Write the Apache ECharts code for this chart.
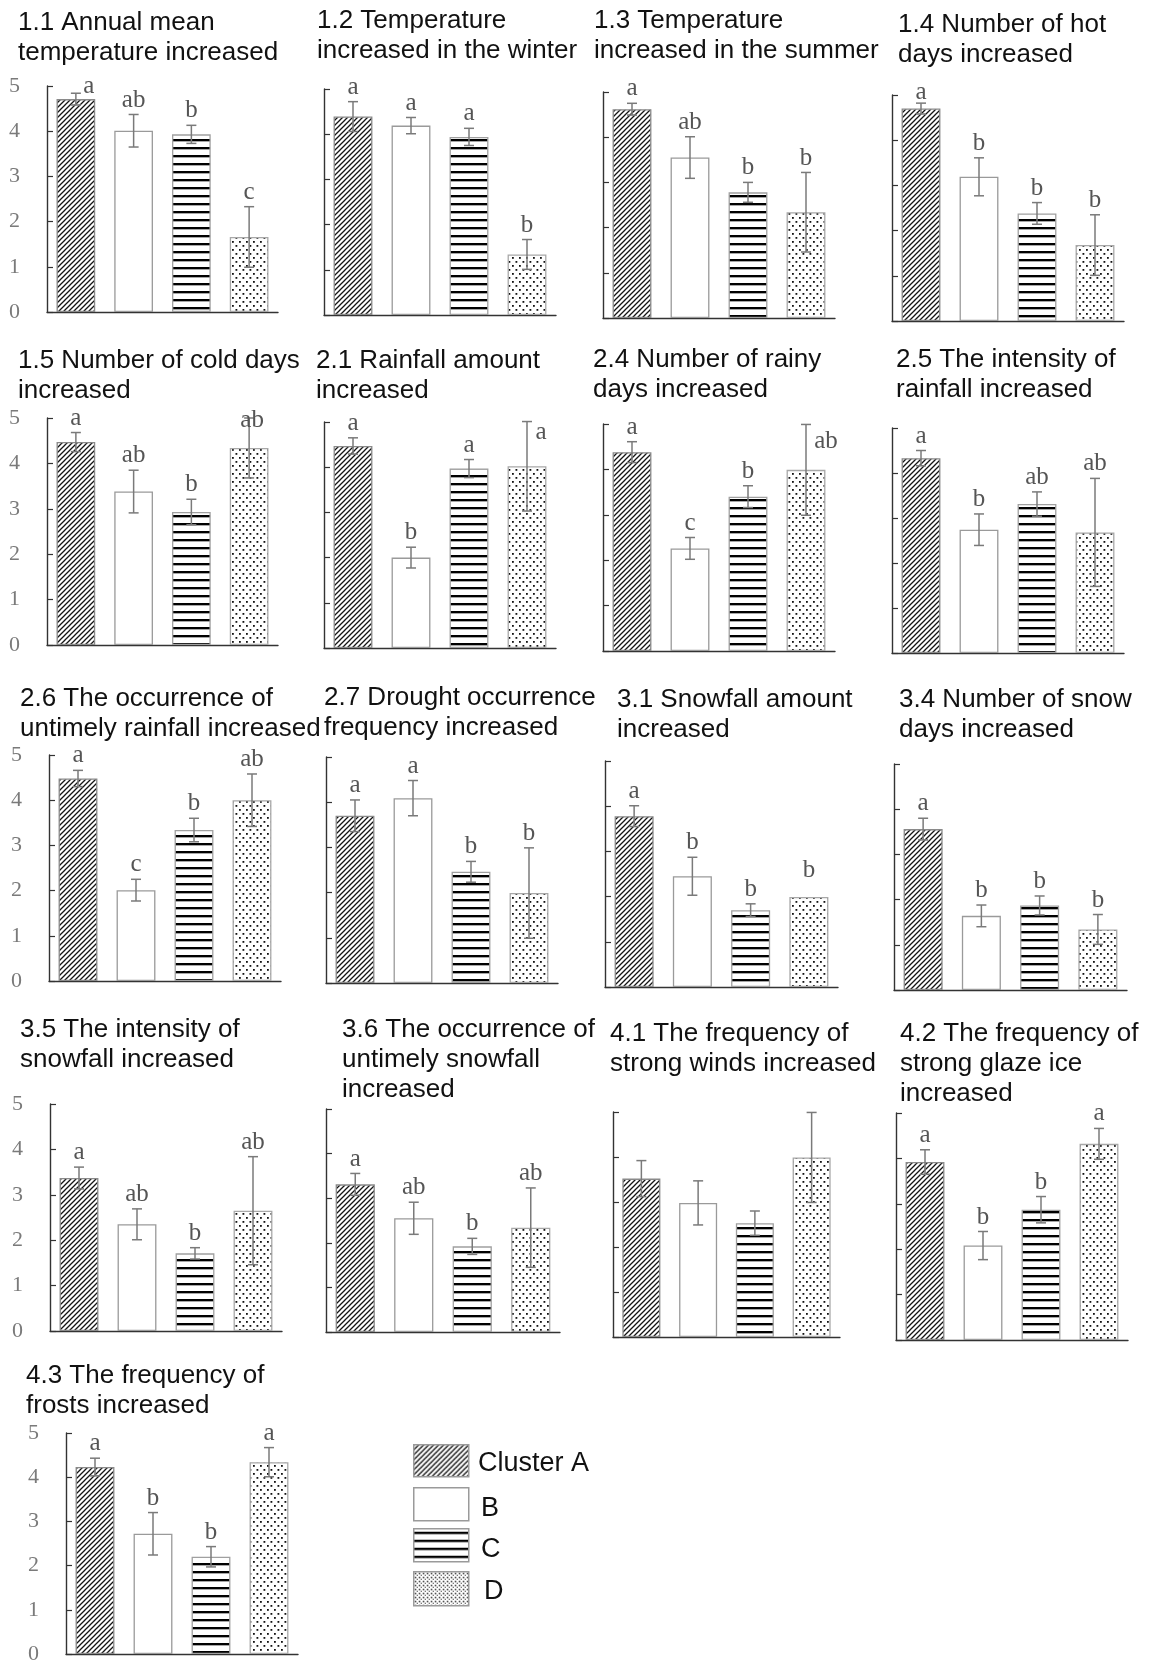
<!DOCTYPE html>
<html>
<head>
<meta charset="utf-8">
<script src="https://cdn.jsdelivr.net/npm/echarts@6/dist/echarts.min.js"></script>
<style>
  html, body { margin: 0; padding: 0; background: #ffffff; }
  #chart { width: 1153px; height: 1665px; }
</style>
</head>
<body>
<div id="chart"></div>
<script>
// ---- data -------------------------------------------------------------
const clusters = ['Cluster A', 'B', 'C', 'D'];
const yTicks = [0, 1, 2, 3, 4, 5];

const panelTitles = [
  '1.1 Annual mean\ntemperature increased',
  '1.2 Temperature\nincreased in the winter',
  '1.3 Temperature\nincreased in the summer',
  '1.4 Number of hot\ndays increased',
  '1.5 Number of cold days\nincreased',
  '2.1 Rainfall amount\nincreased',
  '2.4 Number of rainy\ndays increased',
  '2.5 The intensity of\nrainfall increased',
  '2.6 The occurrence of\nuntimely rainfall increased',
  '2.7 Drought occurrence\nfrequency increased',
  '3.1 Snowfall amount\nincreased',
  '3.4 Number of snow\ndays increased',
  '3.5 The intensity of\nsnowfall increased',
  '3.6 The occurrence of\nuntimely snowfall\nincreased',
  '4.1 The frequency of\nstrong winds increased',
  '4.2 The frequency of\nstrong glaze ice\nincreased',
  '4.3 The frequency of\nfrosts increased'
];

// mean score of each cluster (A, B, C, D) per item
const means = [
  [4.71, 4.01, 3.93, 1.66],
  [4.39, 4.19, 3.94, 1.34],
  [4.62, 3.55, 2.78, 2.34],
  [4.70, 3.19, 2.38, 1.68],
  [4.47, 3.38, 2.93, 4.34],
  [4.47, 2.00, 3.97, 4.02],
  [4.38, 2.26, 3.40, 3.99],
  [4.33, 2.74, 3.31, 2.68],
  [4.48, 2.01, 3.34, 4.00],
  [3.70, 4.09, 2.46, 1.99],
  [3.78, 2.45, 1.70, 1.99],
  [3.56, 1.64, 1.87, 1.34],
  [3.37, 2.35, 1.71, 2.65],
  [3.31, 2.55, 1.92, 2.34],
  [3.52, 2.98, 2.53, 3.99],
  [3.92, 2.08, 2.87, 4.32],
  [4.23, 2.72, 2.20, 4.34]
];

// standard error of each mean
const errors = [
  [0.13, 0.36, 0.20, 0.67],
  [0.33, 0.18, 0.19, 0.33],
  [0.13, 0.46, 0.22, 0.88],
  [0.12, 0.42, 0.24, 0.67],
  [0.21, 0.47, 0.28, 0.66],
  [0.18, 0.23, 0.20, 0.99],
  [0.23, 0.24, 0.24, 1.00],
  [0.17, 0.35, 0.27, 1.20],
  [0.18, 0.24, 0.26, 0.58],
  [0.35, 0.39, 0.23, 1.00],
  [0.23, 0.42, 0.14, 0.00],
  [0.24, 0.24, 0.21, 0.33],
  [0.24, 0.34, 0.125, 1.19],
  [0.245, 0.36, 0.18, 0.89],
  [0.40, 0.49, 0.27, 1.00],
  [0.27, 0.31, 0.29, 0.34],
  [0.20, 0.48, 0.23, 0.33]
];

// significance groups
const letters = [
  ['a', 'ab', 'b', 'c'],
  ['a', 'a', 'a', 'b'],
  ['a', 'ab', 'b', 'b'],
  ['a', 'b', 'b', 'b'],
  ['a', 'ab', 'b', 'ab'],
  ['a', 'b', 'a', 'a'],
  ['a', 'c', 'b', 'ab'],
  ['a', 'b', 'ab', 'ab'],
  ['a', 'c', 'b', 'ab'],
  ['a', 'a', 'b', 'b'],
  ['a', 'b', 'b', 'b'],
  ['a', 'b', 'b', 'b'],
  ['a', 'ab', 'b', 'ab'],
  ['a', 'ab', 'b', 'ab'],
  ['', '', '', ''],
  ['a', 'b', 'b', 'a'],
  ['a', 'b', 'b', 'a']
];

// ---- layout & style ---------------------------------------------------
// plot boxes: [left, top(=5), right, bottom(=0)]
const boxes = [
  [47, 86, 278, 312], [324, 89, 556, 315], [603, 92, 835, 318], [892, 95, 1124, 321],
  [47, 418, 278, 645], [324, 422, 556, 648], [603, 424, 835, 651], [892, 428, 1124, 653],
  [49, 755, 281, 981], [326, 757, 558, 983], [605, 761, 838, 987], [894, 764, 1127, 990],
  [50, 1104, 282, 1331], [326, 1109, 560, 1332], [613, 1112, 840, 1337], [896, 1113, 1128, 1340],
  [66, 1433, 298, 1655]
];
// title anchor [left, top]
const titlePos = [
  [18, 8], [317, 6], [594, 6], [898, 10],
  [18, 346], [316, 346], [593, 345], [896, 345],
  [20, 684], [324, 683], [617, 685], [899, 685],
  [20, 1015], [342, 1015], [610, 1019], [900, 1019],
  [26, 1361]
];
const withYLabels = [0, 4, 8, 12, 16];
// letter placement tweaks: key "panel-bar" -> [dx, gap above error cap]
const letterNudge = {
  '0-0': [13, -6],
  '3-0': [0, -2],
  '4-3': [3, -15],
  '5-3': [14, -23],
  '6-3': [20, -29],
  '10-3': [0, 14]
};

// fill patterns
function tile(w, h, draw) {
  const c = document.createElement('canvas');
  c.width = w; c.height = h;
  const g = c.getContext('2d');
  g.fillStyle = '#ffffff';
  g.fillRect(0, 0, w, h);
  draw(g, w, h);
  return c;
}
function hatchTile(s) {
  return tile(s, s, (g, w) => {
    g.strokeStyle = '#141414';
    g.lineWidth = 1.3;
    g.beginPath();
    g.moveTo(-1, w + 1); g.lineTo(w + 1, -1);
    g.moveTo(-1, 1); g.lineTo(1, -1);
    g.moveTo(w - 1, w + 1); g.lineTo(w + 1, w - 1);
    g.stroke();
  });
}
function stripeTile() {
  return tile(8, 8, (g) => {
    g.fillStyle = '#000000';
    g.fillRect(0, 3, 8, 2);
    g.fillStyle = 'rgba(0,0,0,0.35)';
    g.fillRect(0, 5, 8, 1);
  });
}
function dotTile(w, h, d) {
  return tile(w, h, (g) => {
    g.fillStyle = '#111111';
    g.fillRect(1, 1, d, d);
    g.fillRect(1 + w / 2, 1 + h / 2, d, d);
  });
}
const fills = [
  { image: hatchTile(5), repeat: 'repeat' },
  '#ffffff',
  { image: stripeTile(), repeat: 'repeat' },
  { image: dotTile(7, 8, 1.8), repeat: 'repeat' }
];
const legendFills = [
  { image: hatchTile(5), repeat: 'repeat' },
  '#ffffff',
  { image: stripeTile(), repeat: 'repeat' },
  { image: dotTile(4, 4, 1.4), repeat: 'repeat' }
];
const borders = ['#8a8a8a', '#9a9a9a', '#a0a0a0', '#a8a8a8'];

const AXIS = '#333333';
const ERR = '#7a7a7a';
const LETTER = '#555555';
const SERIF = '"Liberation Serif", "DejaVu Serif", serif';
const SANS = '"Liberation Sans", Arial, sans-serif';

// ---- option -----------------------------------------------------------
const option = {
  animation: false,
  backgroundColor: '#ffffff',
  title: [], grid: [], xAxis: [], yAxis: [], series: [],
  graphic: []
};

panelTitles.forEach((t, p) => {
  const [l, tp, r, b] = boxes[p];
  option.title.push({
    text: t, left: titlePos[p][0], top: titlePos[p][1], padding: 0,
    textStyle: { fontFamily: SANS, fontSize: 26, fontWeight: 'normal', color: '#111111', lineHeight: 30 }
  });
  option.grid.push({ left: l, top: tp, width: r - l, height: b - tp, containLabel: false });
  option.xAxis.push({
    type: 'category', gridIndex: p, data: clusters,
    axisLine: { show: true, lineStyle: { color: AXIS, width: 1.4 } },
    axisTick: { show: false }, axisLabel: { show: false }, splitLine: { show: false }
  });
  const showLab = withYLabels.indexOf(p) >= 0;
  option.yAxis.push({
    type: 'value', gridIndex: p, min: yTicks[0], max: yTicks[yTicks.length - 1], interval: 1,
    axisLine: { show: true, lineStyle: { color: AXIS, width: 1.4 } },
    axisTick: { show: true, inside: true, length: 6, lineStyle: { color: AXIS, width: 1.2 } },
    axisLabel: { show: showLab, margin: 27, fontFamily: SERIF, fontSize: 22, color: '#7a7a7a' },
    splitLine: { show: false }
  });
  option.series.push({
    type: 'bar', xAxisIndex: p, yAxisIndex: p, barCategoryGap: '33%', z: 1,
    data: means[p].map((v, i) => ({
      value: v,
      itemStyle: { color: fills[i], borderColor: borders[i], borderWidth: 1.3 }
    }))
  });
  option.series.push({
    type: 'custom', xAxisIndex: p, yAxisIndex: p, z: 5,
    data: means[p].map((v, i) => [i, v, errors[p][i]]),
    renderItem: function (params, api) {
      const i = api.value(0), m = api.value(1), e = api.value(2);
      const hi = api.coord([i, m + e]);
      const lo = api.coord([i, m - e]);
      const x = hi[0];
      const cap = 5;
      const kids = [];
      if (e > 0) {
        const ls = { stroke: ERR, lineWidth: 1.5 };
        kids.push({ type: 'line', shape: { x1: x, y1: hi[1], x2: x, y2: lo[1] }, style: ls });
        kids.push({ type: 'line', shape: { x1: x - cap, y1: hi[1], x2: x + cap, y2: hi[1] }, style: ls });
        kids.push({ type: 'line', shape: { x1: x - cap, y1: lo[1], x2: x + cap, y2: lo[1] }, style: ls });
      }
      const txt = letters[p][params.dataIndex];
      if (txt) {
        const nudge = letterNudge[p + '-' + params.dataIndex] || [0, 2];
        kids.push({
          type: 'text',
          style: {
            text: txt, x: x + nudge[0], y: hi[1] - nudge[1],
            align: 'center', verticalAlign: 'bottom',
            font: '25px ' + SERIF, fill: LETTER
          }
        });
      }
      return { type: 'group', children: kids };
    }
  });
});

// legend
const legendRows = [
  { y: 1444, h: 32, label: 'Cluster A', tx: 478, ty: 1465 },
  { y: 1487, h: 33, label: 'B', tx: 481, ty: 1510 },
  { y: 1528, h: 33, label: 'C', tx: 481, ty: 1551 },
  { y: 1571, h: 34, label: 'D', tx: 484, ty: 1593 }
];
legendRows.forEach((row, i) => {
  option.graphic.push({
    type: 'rect', left: 413, top: row.y,
    shape: { width: 55, height: row.h },
    style: { fill: legendFills[i], stroke: '#9a9a9a', lineWidth: 1.5 }
  });
  option.graphic.push({
    type: 'text', left: row.tx, top: row.ty - 15,
    style: { text: row.label, font: '27px ' + SANS, fill: '#111111' }
  });
});

const chart = echarts.init(document.getElementById('chart'), null, { renderer: 'canvas' });
chart.setOption(option);
</script>
</body>
</html>
